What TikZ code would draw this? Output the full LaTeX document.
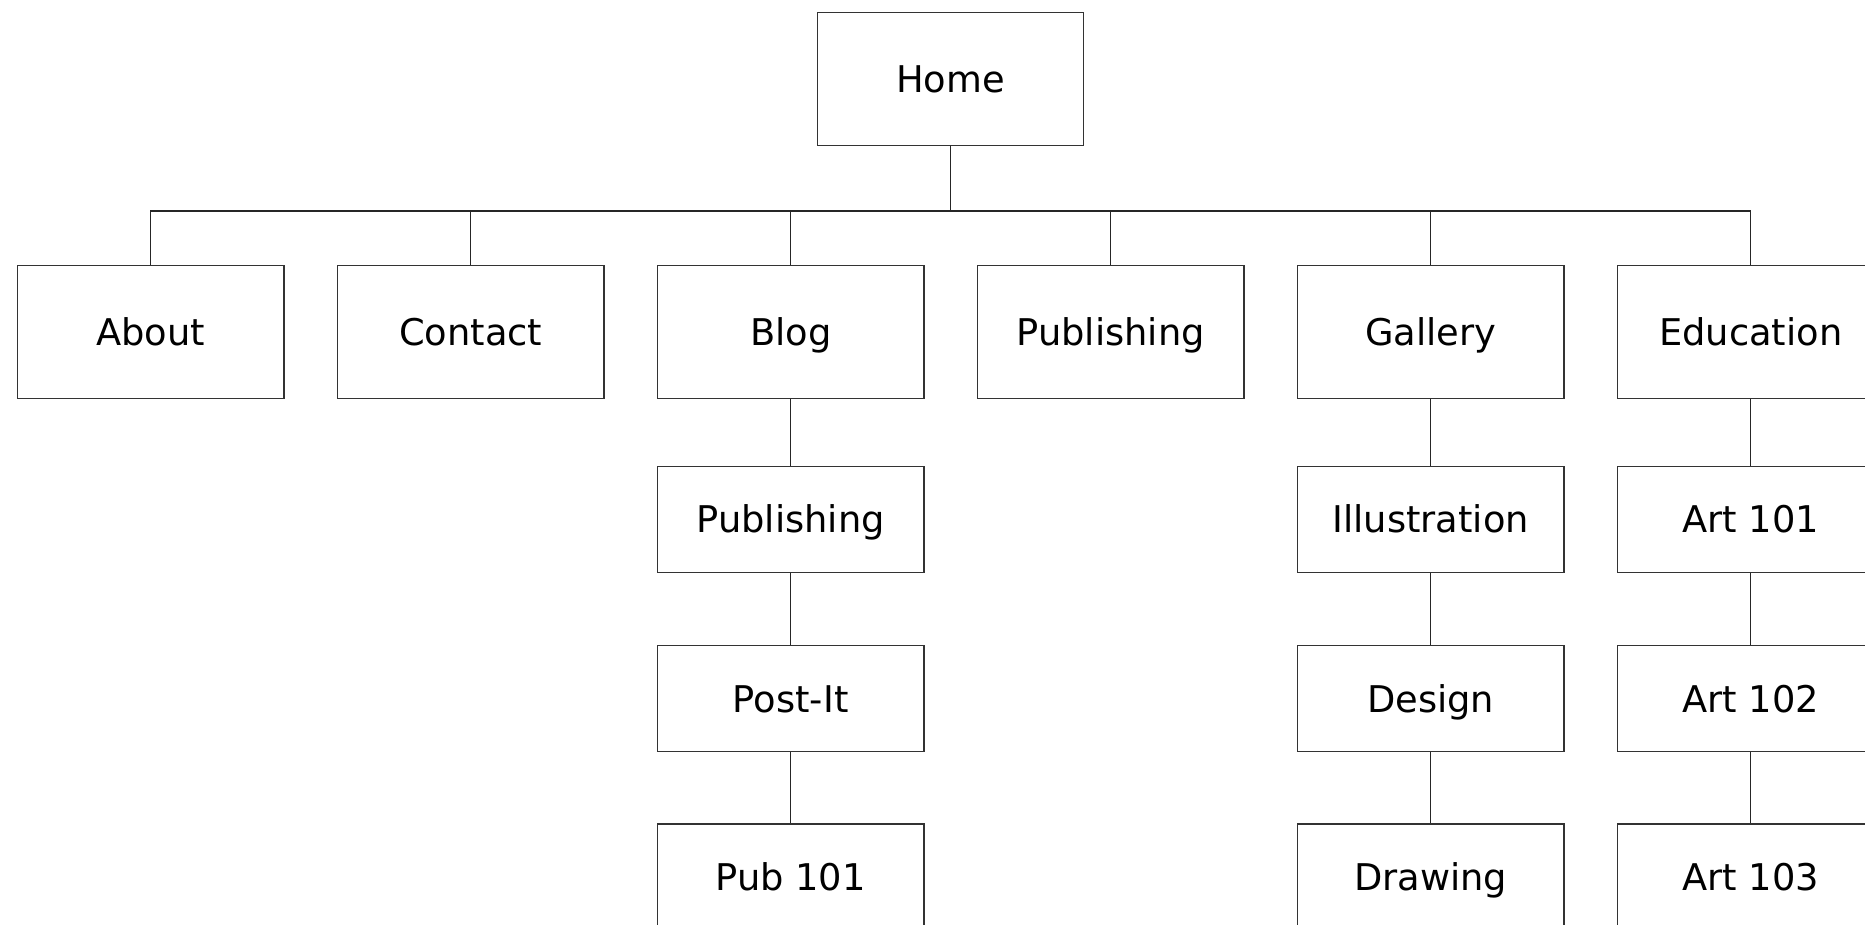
\documentclass[tikz,border=0pt]{standalone}
\usepackage{fontspec}
\setmainfont{DejaVu Sans}
\begin{document}
\begin{tikzpicture}[x=1pt,y=-1pt,
  box/.style={draw=black!80,line width=1.1pt,fill=white,rectangle,inner sep=0pt,
    minimum width=266.5pt,font=\fontsize{36.8}{40}\selectfont,
    text height=26.8pt,text depth=0pt},
  tall/.style={box,minimum height=132.8pt},
  short/.style={box,minimum height=106pt},
  link/.style={draw=black!85,line width=1.1pt}]
\useasboundingbox (0,0) rectangle (1865,925);
\node[tall] (home) at (950.5,78.7) {Home};
\node[tall] (about) at (150.7,332) {About};
\node[tall] (contact) at (470.7,332) {Contact};
\node[tall] (blog) at (790.7,332) {Blog};
\node[tall] (publishing) at (1110.7,332) {Publishing};
\node[tall] (gallery) at (1430.7,332) {Gallery};
\node[tall] (education) at (1750.7,332) {Education};
\node[short] (bpub) at (790.7,519.3) {Publishing};
\node[short] (postit) at (790.7,698.8) {Post-It};
\node[short] (pub101) at (790.7,877) {Pub 101};
\node[short] (illus) at (1430.7,519.3) {Illustration};
\node[short] (design) at (1430.7,698.8) {Design};
\node[short] (drawing) at (1430.7,877) {Drawing};
\node[short] (art101) at (1750.7,519.3) {Art 101};
\node[short] (art102) at (1750.7,698.8) {Art 102};
\node[short] (art103) at (1750.7,877) {Art 103};
\coordinate (bus) at (950.5,211);
\foreach \c in {about,contact,blog,publishing,gallery,education}
  \draw[link] (home.south) -- (bus) -| (\c.north);
\draw[link] (blog.south) -- (bpub.north);
\draw[link] (bpub.south) -- (postit.north);
\draw[link] (postit.south) -- (pub101.north);
\draw[link] (gallery.south) -- (illus.north);
\draw[link] (illus.south) -- (design.north);
\draw[link] (design.south) -- (drawing.north);
\draw[link] (education.south) -- (art101.north);
\draw[link] (art101.south) -- (art102.north);
\draw[link] (art102.south) -- (art103.north);
\end{tikzpicture}
\end{document}
